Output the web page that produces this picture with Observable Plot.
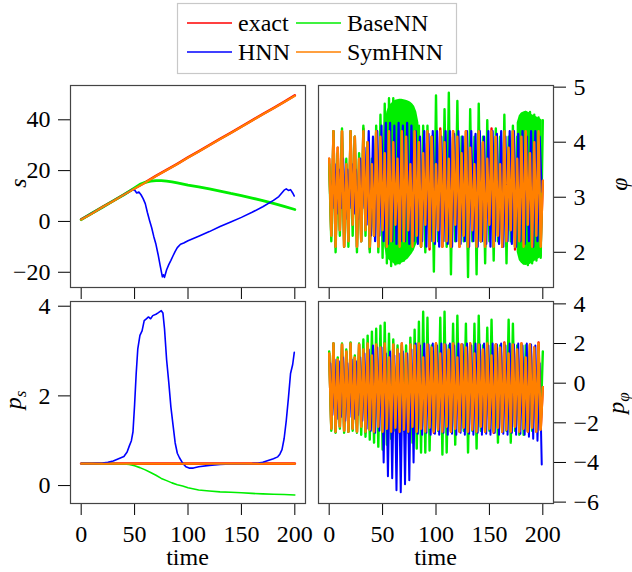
<!DOCTYPE html>
<html>
<head>
<meta charset="utf-8">
<script src="https://cdn.jsdelivr.net/npm/d3@7"></script>
<script src="https://cdn.jsdelivr.net/npm/@observablehq/plot@0.6"></script>
<style>
  body { margin: 0; background: #fff; }
  #chart { position: relative; width: 632px; height: 572px; background: #fff; overflow: hidden; font-family: "Liberation Serif", "Times New Roman", Times, "DejaVu Serif", serif; }
  #chart svg text { font-family: "Liberation Serif", "Times New Roman", Times, "DejaVu Serif", serif !important; }
</style>
</head>
<body>
<div id="chart"></div>
<script>
// ---------- series names & colours ----------
const seriesNames = ["exact", "BaseNN", "HNN", "SymHNN"];
const seriesColors = ["#ff0000", "#00ee00", "#0000ff", "#ff8000"];
const xTicks = [0, 50, 100, 150, 200];

// ---------- panel s ----------
const sTime = [0,10,20,30,40,50,60,70,80,90,100,110,120,130,140,150,160,170,180,190,200];
const sExact = [0.8,3.2,5.7,8.1,10.6,13.0,15.4,17.9,20.3,22.7,25.2,27.6,30.0,32.5,34.9,37.3,39.8,42.2,44.6,47.1,49.6];
const sSym   = [0.7,3.1,5.6,8.0,10.5,12.9,15.3,17.8,20.2,22.6,25.1,27.5,29.9,32.4,34.8,37.2,39.7,42.1,44.5,47.0,49.4];
const sBaseTime = [0,10,20,30,40,50,55,60,65,70,75,80,85,90,100,110,120,130,140,150,160,170,180,190,200];
const sBase = [0.7,3.2,5.6,8.1,10.5,13.2,14.6,15.4,15.9,16.1,16.1,15.9,15.6,15.2,14.3,13.6,12.8,11.9,11.0,10.2,9.2,8.2,7.1,5.9,4.7];
const sHnnTime = [0,10,20,30,40,45,48,50,52,54,56,58,60,62,64,66,68,70,72,74,76,77,78,80,82,84,86,88,90,93,96,100,110,120,130,140,150,160,170,180,185,190,192,194,196,198,199.5];
const sHnn = [0.8,3.2,5.6,8.1,10.5,11.8,12.6,12.4,11.2,11.6,10.5,9.0,7.0,3.5,0.4,-2.5,-6.0,-9.0,-13.0,-17.5,-21.8,-21.0,-22.0,-19.0,-17.0,-15.3,-13.5,-11.8,-10.3,-9.0,-8.5,-7.6,-5.8,-4.0,-2.0,-0.2,1.6,3.6,5.8,8.3,9.8,12.3,12.8,12.2,12.5,11.2,10.0];
const sTicks = [-20, 0, 20, 40];

// ---------- panel p_s ----------
const psTime = [0,50,100,150,200];
const psExact = [0.49,0.49,0.49,0.49,0.49];
const psSym = [0.485,0.485,0.485,0.485,0.485];
const psBaseTime = [0,20,30,40,45,50,55,60,65,70,75,80,85,90,95,100,110,120,130,140,150,160,170,180,190,200];
const psBase = [0.49,0.49,0.49,0.48,0.47,0.44,0.40,0.35,0.29,0.23,0.16,0.11,0.06,0.02,-0.01,-0.05,-0.10,-0.12,-0.14,-0.15,-0.16,-0.175,-0.185,-0.195,-0.20,-0.21];
const psHnnTime = [0,10,20,25,30,35,40,43,45,47,48.5,50,51.5,53,55,57,59,61,63,65,67,70,72,75,76.5,78,80,82,84,86,88,90,92,95,98,101,105,110,120,130,140,150,160,166,170,175,180,184,186,188,190,192,194,196,198,199.5];
const psHnn = [0.49,0.49,0.5,0.52,0.55,0.6,0.65,0.75,0.88,1.0,1.2,1.8,2.5,3.05,3.35,3.45,3.68,3.72,3.76,3.72,3.79,3.82,3.85,3.9,3.85,3.5,2.8,2.3,1.75,1.35,0.95,0.72,0.62,0.5,0.42,0.39,0.39,0.42,0.45,0.47,0.48,0.48,0.49,0.5,0.52,0.56,0.6,0.64,0.7,0.8,1.05,1.45,1.95,2.5,2.7,2.97];
const psTicks = [0, 2, 4];

// ---------- panel phi (samples every 2 time units; HNN on odd times) ----------
const oscTimeEven = d3.range(0, 201, 2);
const oscTimeOdd = d3.range(1, 200, 2);
const phiExact = [
3.7,2.3,4.2,2.1,3.9,2.4,4.2,2.1,3.6,2.2,
4.2,2.5,4.1,2.1,3.7,2.2,4.25,2.4,4.0,2.05,
3.6,2.3,4.2,2.1,4.1,2.4,3.8,2.1,4.2,2.2,
4.0,2.5,3.7,2.05,4.25,2.2,4.1,2.4,3.6,2.1,
4.2,2.3,4.0,2.1,3.8,2.5,4.2,2.05,4.1,2.2,
3.6,2.4,4.25,2.1,4.0,2.2,3.7,2.1,4.2,2.5,
4.1,2.1,3.8,2.3,4.2,2.05,3.9,2.4,3.6,2.1,
4.2,2.2,4.0,2.1,3.7,2.5,4.25,2.1,4.1,2.3,
3.6,2.1,4.2,2.2,3.9,2.4,4.2,2.05,3.7,2.2,
4.1,2.1,4.2,2.5,3.8,2.1,4.0,2.3,4.2,2.1,
3.3];
const phiSym = [
3.7,2.3,4.2,2.1,3.9,2.4,4.2,2.1,3.6,2.2,
4.2,2.5,4.1,2.1,3.7,2.2,4.2,2.4,4.0,2.1,
3.6,2.3,4.2,2.1,4.1,2.4,3.8,2.1,4.2,2.2,
4.0,2.5,3.7,2.1,4.2,2.2,4.1,2.4,3.6,2.1,
4.2,2.3,4.0,2.1,3.8,2.5,4.2,2.1,4.1,2.2,
3.6,2.4,4.2,2.1,4.0,2.2,3.7,2.1,4.2,2.5,
4.1,2.1,3.8,2.3,4.2,2.1,3.9,2.4,3.6,2.1,
4.2,2.2,4.0,2.1,3.7,2.5,4.2,2.1,4.1,2.3,
3.6,2.1,4.2,2.2,3.9,2.4,4.2,2.1,3.7,2.2,
4.1,2.1,4.2,2.5,3.8,2.1,4.0,2.3,4.2,2.1,
3.3];
const phiHnn = [
3.3,2.8,3.6,2.7,3.5,2.8,3.7,2.6,3.5,2.8,3.6,2.7,3.5,2.6,3.7,2.8,3.9,2.5,4.2,2.3,4.1,2.2,4.2,2.3,
4.3,2.2,4.35,2.15,4.35,2.2,4.3,2.15,4.35,2.2,4.3,2.2,4.35,2.15,4.3,2.2,
4.2,2.15,4.1,2.2,4.2,2.1,4.15,2.2,4.2,2.15,
4.2,2.1,4.1,2.2,4.2,2.15,4.2,2.1,4.15,2.2,
4.2,2.15,4.1,2.2,4.2,2.1,4.2,2.2,4.15,2.1,
4.2,2.2,4.1,2.15,4.2,2.1,4.2,2.2,4.15,2.15,
4.2,2.1,4.1,2.2,4.2,2.15,4.2,2.1,4.15,2.2,
4.2,2.15,4.1,2.2,4.2,2.1,4.2,2.2,4.1,3.1];
const phiBase = [
3.6,2.2,4.2,2.0,3.8,2.3,4.25,2.1,3.7,2.1,4.2,2.3,4.1,2.0,3.8,2.2,4.3,2.3,4.0,2.0,3.7,2.3,4.3,2.0,
4.5,1.9,4.7,1.8,4.8,1.75,4.8,1.78,4.75,1.8,4.7,1.85,4.6,1.95,4.5,2.05,4.4,2.2,4.3,
2.1,4.3,2.0,4.3,2.2,4.1,1.65,4.85,2.2,4.1,2.2,4.6,2.1,4.9,1.6,4.1,2.2,4.75,2.2,4.1,2.2,4.1,1.55,4.6,2.2,4.1,1.6,4.7,2.2,4.1,1.8,4.4,2.2,4.1,1.85,4.25,2.2,4.1,2.2,4.5,1.8,4.1,2.2,4.3,2.1,4.1,2.0,
4.5,1.8,4.55,1.77,4.55,1.8,4.5,1.85,4.45,1.9,4.4,1.95,4.4];
// dense BaseNN oscillation envelopes (drawn as bands)
const phiBlob1Time = [52,54,56,58,60,62,64,66,68,70,72,74,76,78,80,82,84];
const phiBlob1Hi = [4.3,4.55,4.65,4.7,4.73,4.76,4.77,4.78,4.78,4.77,4.76,4.75,4.73,4.7,4.65,4.55,4.35];
const phiBlob1Lo = [2.1,1.9,1.86,1.83,1.8,1.77,1.77,1.78,1.8,1.82,1.85,1.88,1.93,1.98,2.05,2.15,2.3];
const phiBlob2Time = [176,178,180,182,184,186,188,190,192,194,196,198,199.5];
const phiBlob2Hi = [4.35,4.48,4.53,4.55,4.56,4.55,4.53,4.5,4.48,4.46,4.44,4.42,4.4];
const phiBlob2Lo = [2.0,1.85,1.8,1.77,1.76,1.77,1.78,1.8,1.83,1.86,1.88,1.9,1.92];
const phiTicks = [2, 3, 4, 5];

// ---------- panel p_phi ----------
const pphiExact = [
1.5,-2.3,2.0,-2.45,1.2,-2.2,1.95,-2.4,1.6,-2.45,
2.0,-2.3,1.3,-2.45,1.95,-2.2,1.7,-2.5,2.0,-2.35,
1.4,-2.45,1.95,-2.2,1.8,-2.45,2.05,-2.3,1.3,-2.45,
1.95,-2.25,1.7,-2.5,2.0,-2.35,1.5,-2.45,1.95,-2.2,
1.9,-2.45,2.05,-2.3,1.3,-2.45,1.95,-2.25,1.8,-2.5,
2.0,-2.35,1.5,-2.45,1.95,-2.2,1.7,-2.45,2.05,-2.3,
1.3,-2.45,1.95,-2.25,1.8,-2.5,2.0,-2.35,1.5,-2.45,
1.95,-2.2,1.7,-2.45,2.0,-2.3,1.4,-2.5,1.95,-2.25,
1.8,-2.45,2.05,-2.35,1.5,-2.45,1.95,-2.2,1.7,-2.45,
2.0,-2.3,1.3,-2.45,1.95,-2.25,1.8,-2.45,2.05,-2.35,
-0.2];
const pphiSym = [
1.5,-2.3,2.0,-2.45,1.2,-2.2,1.95,-2.4,1.6,-2.45,
2.0,-2.3,1.3,-2.45,1.95,-2.2,1.7,-2.45,2.0,-2.35,
1.4,-2.45,1.95,-2.2,1.8,-2.45,2.0,-2.3,1.3,-2.45,
1.95,-2.25,1.7,-2.45,2.0,-2.35,1.5,-2.45,1.95,-2.2,
1.9,-2.45,2.0,-2.3,1.3,-2.45,1.95,-2.25,1.8,-2.45,
2.0,-2.35,1.5,-2.45,1.95,-2.2,1.7,-2.45,2.0,-2.3,
1.3,-2.45,1.95,-2.25,1.8,-2.45,2.0,-2.35,1.5,-2.45,
1.95,-2.2,1.7,-2.45,2.0,-2.3,1.4,-2.45,1.95,-2.25,
1.8,-2.45,2.0,-2.35,1.5,-2.45,1.95,-2.2,1.7,-2.45,
2.0,-2.3,1.3,-2.45,1.95,-2.25,1.8,-2.45,2.0,-2.35,
-0.2];
const pphiHnn = [
1.0,-1.6,1.2,-1.8,1.1,-1.7,1.3,-1.9,1.0,-1.7,1.2,-1.8,1.1,-1.6,1.3,-1.9,1.5,-2.3,1.7,-2.4,1.9,-2.5,1.8,-2.4,
1.8,-4.0,1.5,-4.7,1.6,-4.8,1.4,-5.4,1.5,-5.5,1.6,-5.1,1.5,-4.9,1.7,-4.0,
2.0,-2.55,1.9,-2.6,2.0,-2.5,1.95,-2.6,2.0,-2.55,
1.9,-2.6,2.0,-2.5,1.95,-2.6,2.0,-2.55,1.9,-2.6,
2.0,-2.5,1.95,-2.6,2.0,-2.55,1.9,-2.6,2.0,-2.5,
1.95,-2.6,2.0,-2.55,1.9,-2.6,2.0,-2.5,1.95,-2.6,
2.0,-2.55,1.9,-2.6,2.0,-2.5,1.95,-2.6,2.0,-2.55,
1.9,-2.6,2.0,-2.7,1.95,-2.8,1.9,-2.9,1.0,-4.1];
const pphiBase = [
1.6,-2.4,2.0,-2.5,1.3,-2.3,2.0,-2.5,1.7,-2.45,2.05,-2.4,1.4,-2.5,2.0,
-2.6,2.2,-2.7,2.4,-2.85,2.6,-3.0,2.75,-3.2,2.9,-3.35,3.05,
-3.1,2.5,-2.8,2.2,-2.4,1.9,-2.4,1.9,-2.4,1.9,-2.5,2.3,
-3.0,2.7,-3.3,3.1,-3.5,3.6,-3.5,3.3,-3.4,1.9,-2.4,
1.9,-2.4,3.3,-3.6,3.6,-3.5,1.9,-2.4,3.0,-3.1,3.4,-2.4,1.9,-2.4,3.0,-3.5,1.9,-2.4,3.0,-3.3,3.4,-2.4,1.9,-2.4,2.8,-2.4,
3.2,-2.4,1.9,-3.0,1.9,-2.4,1.9,-2.4,3.2,-3.0,3.0,-2.4,
1.9,-2.6,1.9,-2.6,1.9,-2.4,1.9,-2.4,1.7,-2.2,1.6,-2.0,1.6];
const pphiTicks = [-6, -4, -2, 0, 2, 4];

// ---------- drawing ----------
const chart = document.getElementById("chart");
const [cExact, cBase, cHnn, cSym] = seriesColors;
const serif = "'Liberation Serif', 'Times New Roman', Times, 'DejaVu Serif', serif";
const fontStyle = {fontFamily: serif, fontSize: "24px", color: "#000", background: "none", overflow: "visible"};
const fmtTick = d => (d < 0 ? "\u2212" : "") + Math.abs(d);

function panel({left, top, width, height, ml, mr, mt, mb, yDomain, yTicks, yAxis, xLabels, marks}) {
  const svg = Plot.plot({
    width, height,
    marginLeft: ml, marginRight: mr, marginTop: mt, marginBottom: mb,
    style: fontStyle,
    x: {domain: [-10, 210], ticks: xTicks, tickSize: 12, tickPadding: 9, label: null,
        tickFormat: xLabels ? fmtTick : (() => "")},
    y: {domain: yDomain, ticks: yTicks, tickSize: 12, tickPadding: 8, label: null, axis: yAxis, tickFormat: fmtTick},
    marks: [...marks, Plot.frame({stroke: "#444", strokeWidth: 1.2})]
  });
  svg.style.position = "absolute";
  svg.style.left = left + "px";
  svg.style.top = top + "px";
  chart.appendChild(svg);
}

const ln = (t, v, color, w) => Plot.line(v, {x: t, y: v, stroke: color, strokeWidth: w});

// top-left: s
panel({left: 0, top: 75, width: 316, height: 226, ml: 70, mr: 11, mt: 10, mb: 14,
  yDomain: [-26, 53.5], yTicks: sTicks, yAxis: "left", xLabels: false,
  marks: [
    ln(sTime, sExact, cExact, 2.6),
    ln(sBaseTime, sBase, cBase, 2.8),
    ln(sHnnTime, sHnn, cHnn, 1.6),
    ln(sTime, sSym, cSym, 2)
  ]});

// top-right: phi
panel({left: 306, top: 75, width: 326, height: 226, ml: 12, mr: 79, mt: 10, mb: 14,
  yDomain: [1.36, 5.03], yTicks: phiTicks, yAxis: "right", xLabels: false,
  marks: [
    ln(oscTimeEven, phiExact, cExact, 2.4),
    ln(oscTimeEven, phiBase, cBase, 2.4),
    Plot.areaY(phiBlob1Time, {x: phiBlob1Time, y1: phiBlob1Lo, y2: phiBlob1Hi, fill: cBase}),
    Plot.areaY(phiBlob2Time, {x: phiBlob2Time, y1: phiBlob2Lo, y2: phiBlob2Hi, fill: cBase}),
    ln(oscTimeOdd, phiHnn, cHnn, 2.2),
    ln(oscTimeEven, phiSym, cSym, 2.4)
  ]});

// bottom-left: p_s
panel({left: 0, top: 291, width: 316, height: 281, ml: 70, mr: 11, mt: 10, mb: 69,
  yDomain: [-0.40, 4.105], yTicks: psTicks, yAxis: "left", xLabels: true,
  marks: [
    ln(psTime, psExact, cExact, 2.6),
    ln(psBaseTime, psBase, cBase, 1.6),
    ln(psHnnTime, psHnn, cHnn, 1.6),
    ln(psTime, psSym, cSym, 2)
  ]});

// bottom-right: p_phi
panel({left: 306, top: 291, width: 326, height: 281, ml: 12, mr: 79, mt: 10, mb: 69,
  yDomain: [-6.07, 4.12], yTicks: pphiTicks, yAxis: "right", xLabels: true,
  marks: [
    ln(oscTimeEven, pphiExact, cExact, 2.4),
    ln(oscTimeEven, pphiBase, cBase, 2.4),
    ln(oscTimeOdd, pphiHnn, cHnn, 2),
    ln(oscTimeEven, pphiSym, cSym, 2.4)
  ]});

// ---------- overlay: legend & axis titles ----------
const NS = "http://www.w3.org/2000/svg";
const ov = document.createElementNS(NS, "svg");
ov.setAttribute("width", 632); ov.setAttribute("height", 572);
ov.style.cssText = "position:absolute;left:0;top:0;pointer-events:none;";
chart.appendChild(ov);
function el(tag, attrs, text) {
  const e = document.createElementNS(NS, tag);
  for (const k in attrs) e.setAttribute(k, attrs[k]);
  if (text != null) e.textContent = text;
  ov.appendChild(e);
  return e;
}
// legend
el("rect", {x: 177.5, y: 3.5, width: 279, height: 70, fill: "#fff", stroke: "#c8c8c8", "stroke-width": 1.2});
const legendPos = [[187, 23], [296, 23], [187, 52], [296, 52]];
seriesNames.forEach((name, i) => {
  const [lx, ly] = legendPos[i];
  el("line", {x1: lx, x2: lx + 45, y1: ly, y2: ly, stroke: seriesColors[i], "stroke-width": 1.5});
  el("text", {x: lx + 51, y: ly + 8, "font-size": 24, fill: "#000"}, name);
});
// x titles
el("text", {x: 187.5, y: 565, "font-size": 24, "text-anchor": "middle"}, "time");
el("text", {x: 435.5, y: 565, "font-size": 24, "text-anchor": "middle"}, "time");
// y titles
function ytitle(x, y, main, sub) {
  const t = el("text", {transform: `translate(${x},${y}) rotate(-90)`, "font-size": 24, "font-style": "italic", "text-anchor": "middle"});
  const a = document.createElementNS(NS, "tspan"); a.textContent = main; t.appendChild(a);
  if (sub) {
    const b = document.createElementNS(NS, "tspan");
    b.setAttribute("font-size", 17); b.setAttribute("dy", 5); b.textContent = sub; t.appendChild(b);
  }
}
ytitle(25.5, 183, "s");
ytitle(21, 400, "p", "s");
ytitle(627, 184, "φ");
ytitle(624, 403, "p", "φ");
</script>
</body>
</html>
